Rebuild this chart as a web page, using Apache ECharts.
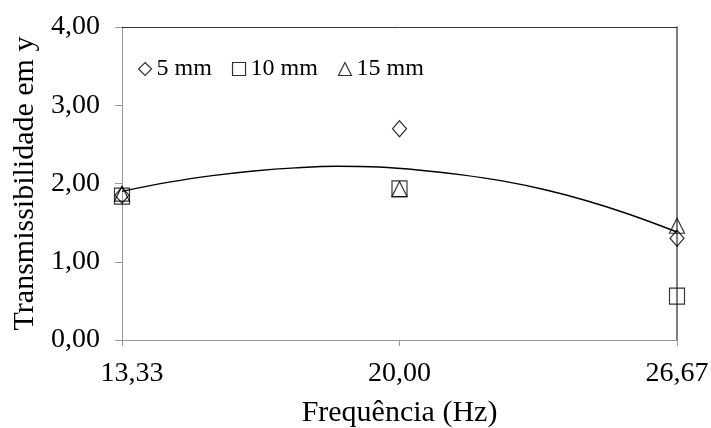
<!DOCTYPE html>
<html>
<head>
<meta charset="utf-8">
<script src="https://cdn.jsdelivr.net/npm/echarts@6/dist/echarts.min.js"></script>
<style>
  html, body { margin: 0; padding: 0; background: #fff; }
  #chart { width: 711px; height: 428px; }
</style>
</head>
<body>
<div id="chart"></div>
<script>
// Frequencies tested (Hz)
const frequencies = [13.33, 20.00, 26.67];
// Transmissibility in y for each spring deflection
const series5mm  = [1.85, 2.70, 1.30];
const series10mm = [1.84, 1.93, 0.56];
const series15mm = [1.87, 1.93, 1.46];
// Polynomial trend line, sampled along the frequency range
const trendFreq  = [13.33, 14.5, 15.5, 16.5, 17.5, 18.5, 19.5, 20.5, 21.5, 22.5, 23.5, 24.5, 25.5, 26.67];
const trendValue = [1.90, 2.02, 2.10, 2.16, 2.20, 2.22, 2.21, 2.17, 2.11, 2.03, 1.92, 1.78, 1.61, 1.38];
const yTicks = [0, 1, 2, 3, 4];
const seriesNames = ['5 mm', '10 mm', '15 mm'];

const FONT = "'Liberation Serif', 'Times New Roman', serif";
const fmt = v => Number(v).toFixed(2).replace('.', ',');
const pairs = (xs, ys) => xs.map((x, i) => [x, ys[i]]);

const hollow = { color: 'transparent', borderColor: '#000', borderWidth: 1.2 };

const chart = echarts.init(document.getElementById('chart'), null, { renderer: 'canvas' });
chart.setOption({
  animation: false,
  backgroundColor: '#fff',
  grid: { left: 122, right: 34, top: 27, bottom: 88, containLabel: false, outerBoundsMode: 'none' },
  legend: {
    left: 133, top: 52,
    itemWidth: 13, itemHeight: 13, itemGap: 20,
    textStyle: { fontFamily: FONT, fontSize: 24, color: '#000' },
    data: [
      { name: seriesNames[0], icon: 'diamond', itemStyle: hollow },
      { name: seriesNames[1], icon: 'rect', itemStyle: hollow },
      { name: seriesNames[2], icon: 'triangle', itemStyle: hollow }
    ]
  },
  xAxis: [{
    type: 'value',
    min: frequencies[0], max: frequencies[frequencies.length - 1],
    name: 'Frequência (Hz)', nameLocation: 'middle', nameGap: 58,
    nameTextStyle: { fontFamily: FONT, fontSize: 30, color: '#000' },
    axisLine: { show: true, onZero: false, lineStyle: { color: '#999', width: 1 } },
    axisTick: { show: true, length: 6, customValues: frequencies, lineStyle: { color: '#999' } },
    axisLabel: {
      customValues: frequencies, margin: 20,
      // the first label sits a little inside the plot
      formatter: v => (v === frequencies[0] ? '{first|' + fmt(v) + '}' : fmt(v)),
      rich: { first: { fontFamily: FONT, fontSize: 28, color: '#000', padding: [0, 0, 0, 20] } },
      fontFamily: FONT, fontSize: 28, color: '#000'
    },
    splitLine: { show: false }
  }, {
    type: 'value', position: 'top',
    min: frequencies[0], max: frequencies[frequencies.length - 1],
    axisLine: { show: true, onZero: false, lineStyle: { color: '#333', width: 1 } },
    axisTick: { show: false }, axisLabel: { show: false }, splitLine: { show: false }
  }],
  yAxis: [{
    type: 'value', min: yTicks[0], max: yTicks[yTicks.length - 1], interval: 1,
    name: 'Transmissibilidade em y', nameLocation: 'middle', nameGap: 81,
    nameTextStyle: { fontFamily: FONT, fontSize: 30, color: '#000' },
    axisLine: { show: true, onZero: false, lineStyle: { color: '#999', width: 1 } },
    axisTick: { show: true, length: 7, lineStyle: { color: '#999' } },
    axisLabel: { formatter: fmt, margin: 22, fontFamily: FONT, fontSize: 28, color: '#000' },
    splitLine: { show: false }
  }, {
    type: 'value', position: 'right', min: yTicks[0], max: yTicks[yTicks.length - 1], interval: 1,
    axisLine: { show: true, onZero: false, lineStyle: { color: '#555', width: 1.5 } },
    axisTick: { show: false }, axisLabel: { show: false }, splitLine: { show: false }
  }],
  series: [
    {
      name: 'trend', type: 'line', data: pairs(trendFreq, trendValue),
      smooth: 0.4, showSymbol: false, silent: true,
      lineStyle: { color: '#000', width: 1.4 }, z: 1
    },
    {
      name: seriesNames[0], type: 'scatter', symbol: 'diamond', symbolSize: [14, 16],
      data: pairs(frequencies, series5mm), itemStyle: hollow, z: 3
    },
    {
      name: seriesNames[1], type: 'scatter', symbol: 'rect', symbolSize: [15, 16],
      data: pairs(frequencies, series10mm), itemStyle: hollow, z: 3
    },
    {
      name: seriesNames[2], type: 'scatter', symbol: 'triangle', symbolSize: [15, 15],
      data: pairs(frequencies, series15mm), itemStyle: hollow, z: 3
    }
  ]
});
</script>
</body>
</html>
